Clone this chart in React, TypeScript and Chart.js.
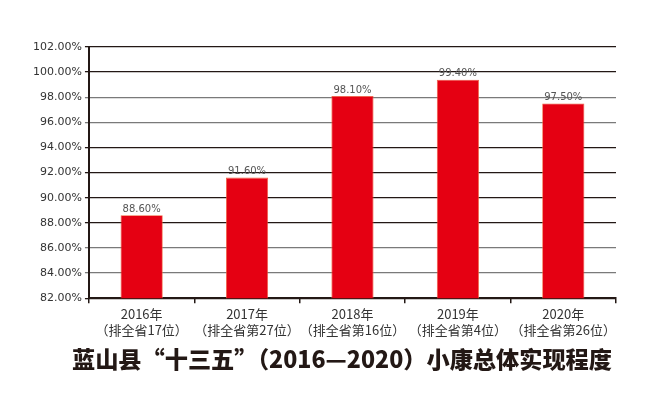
import React, { useEffect, useRef } from "react";
import { Chart, registerables } from "chart.js";
Chart.register(...registerables);

const years = ["2016年", "2017年", "2018年", "2019年", "2020年"];
const ranks = ["（排全省17位）", "（排全省第27位）", "（排全省第16位）", "（排全省第4位）", "（排全省第26位）"];
const values = [88.6, 91.6, 98.1, 99.4, 97.5];
const yMin = 82;
const yMax = 102;
const yStep = 2;
const titleText = "蓝山县“十三五”（2016—2020）小康总体实现程度";
const darkTicks = [102, 100, 94, 92, 90, 88, 82];

const valueLabels = {
  id: "valueLabels",
  afterDatasetsDraw(chart: any) {
    const { ctx } = chart;
    const meta = chart.getDatasetMeta(0);
    ctx.save();
    ctx.font = "10px 'DejaVu Sans', sans-serif";
    ctx.fillStyle = "#555";
    ctx.textAlign = "center";
    ctx.textBaseline = "bottom";
    meta.data.forEach((bar: any, i: number) => {
      ctx.fillText(values[i].toFixed(2) + "%", bar.x, bar.y - 1);
    });
    ctx.restore();
  },
};

export default function App() {
  const ref = useRef<HTMLCanvasElement>(null);
  useEffect(() => {
    const chart = new Chart(ref.current!, {
      type: "bar",
      data: {
        labels: years.map((y, i) => [y, ranks[i]]),
        datasets: [
          {
            data: values,
            backgroundColor: "#e50012",
            borderColor: "#f0603a",
            borderWidth: 0.8,
            categoryPercentage: 1,
            barPercentage: 0.4,
          },
        ],
      },
      options: {
        animation: false,
        responsive: false,
        maintainAspectRatio: false,
        layout: { padding: { left: 30, right: 39, top: 47, bottom: 58 } },
        plugins: {
          legend: { display: false },
          tooltip: { enabled: false },
        },
        scales: {
          x: {
            grid: {
              offset: true,
              drawOnChartArea: false,
              drawTicks: true,
              tickLength: 5,
              color: "#231815",
              lineWidth: 1.5,
            },
            border: { color: "#231815", width: 2 },
            ticks: {
              color: "#333",
              font: { family: "'Noto Sans CJK SC', sans-serif", size: 13, lineHeight: 1.3 },
              padding: 2,
              maxRotation: 0,
              minRotation: 0,
              autoSkip: false,
            },
          },
          y: {
            min: yMin,
            max: yMax,
            grid: {
              color: (c: any) => (darkTicks.includes(Math.round(c.tick?.value)) ? "#231815" : "#7a7a7a"),
              lineWidth: 1.3,
              drawTicks: true,
              tickLength: 4,
            },
            border: { color: "#231815", width: 2 },
            ticks: {
              stepSize: yStep,
              color: "#333",
              font: { family: "'DejaVu Sans', sans-serif", size: 11 },
              padding: 3,
              callback: (v: any) => Number(v).toFixed(2) + "%",
            },
          },
        },
      },
      plugins: [valueLabels],
    });
    return () => chart.destroy();
  }, []);
  return (
    <div style={{ position: "fixed", left: 0, top: 0, width: 655, height: 399, background: "#fff" }}>
      <canvas ref={ref} width={655} height={399} style={{ display: "block" }} />
      <div
        style={{
          position: "absolute",
          left: 72,
          top: 346,
          fontFamily: "'Noto Sans CJK SC', sans-serif",
          fontWeight: 900,
          fontSize: 23.2,
          lineHeight: "24px",
          color: "#231815",
          whiteSpace: "nowrap",
        }}
      >
        {titleText}
      </div>
    </div>
  );
}
